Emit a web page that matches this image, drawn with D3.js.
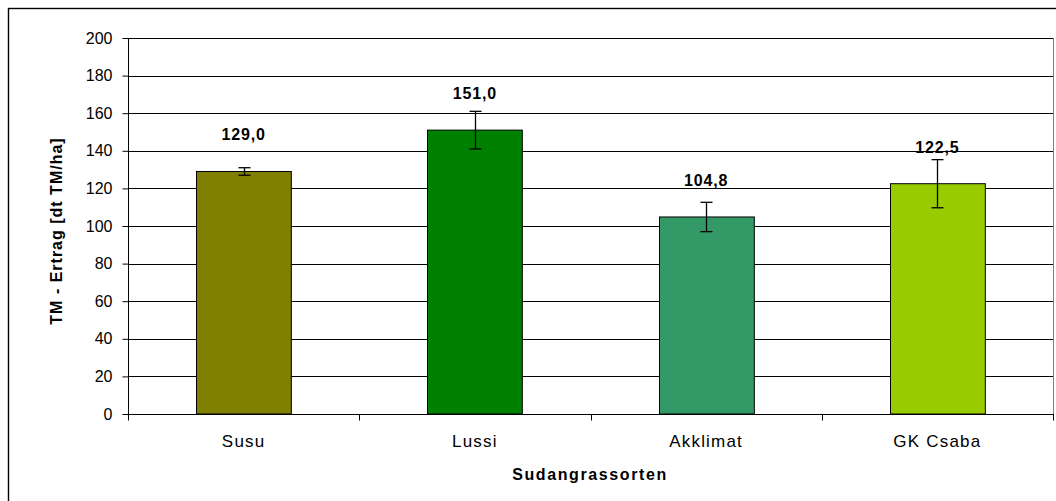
<!DOCTYPE html>
<html><head><meta charset="utf-8">
<script src="https://cdn.jsdelivr.net/npm/d3@7"></script>
<style>body{margin:0;background:#fff;font-family:"Liberation Sans",Arial,sans-serif}</style>
</head><body>
<svg id="chart" width="1056" height="501"></svg>
<script>
const categories = ["Susu", "Lussi", "Akklimat", "GK Csaba"];
const values = [129.0, 151.0, 104.8, 122.5];
const errors = [2.0, 10.0, 7.8, 12.8];
const valueLabels = ["129,0", "151,0", "104,8", "122,5"];
const colors = ["#808000", "#008000", "#339966", "#99CC00"];
const yTicks = [0, 20, 40, 60, 80, 100, 120, 140, 160, 180, 200];
const yTitle = "TM - Ertrag [dt TM/ha]";
const xTitle = "Sudangrassorten";

const FONT = "Liberation Sans, Arial, sans-serif";
const svg = d3.select("#chart").style("font-family", FONT);
const m = {left: 128, top: 38, right: 1053, bottom: 414};

svg.append("rect").attr("x", 8.5).attr("y", 8.5).attr("width", 1070).attr("height", 520)
  .attr("fill", "#fff").attr("stroke", "#000").attr("stroke-width", 1.4);

const x = d3.scaleBand().domain(categories).range([m.left, m.right]).paddingInner(0.59).paddingOuter(0.295);
const xs = d3.scaleBand().domain(categories).range([m.left, m.right]);
const y = d3.scaleLinear().domain([0, 200]).range([m.bottom, m.top]);

// gridlines
svg.append("g").selectAll("line").data(yTicks.filter(t => t > 0)).join("line")
  .attr("x1", m.left).attr("x2", m.right)
  .attr("y1", d => Math.round(y(d)) + 0.5).attr("y2", d => Math.round(y(d)) + 0.5)
  .attr("stroke", "#000").attr("stroke-width", 1);
// right plot border
svg.append("line").attr("x1", m.right + 0.5).attr("x2", m.right + 0.5)
  .attr("y1", m.top).attr("y2", m.bottom).attr("stroke", "#808080");

// bars
svg.append("g").selectAll("rect").data(categories).join("rect")
  .attr("x", d => Math.round(x(d)) + 0.5)
  .attr("y", (d, i) => y(values[i]))
  .attr("width", x.bandwidth())
  .attr("height", (d, i) => y(0) - y(values[i]))
  .attr("fill", (d, i) => colors[i]).attr("stroke", "#000").attr("stroke-width", 1);

// error bars
const eb = svg.append("g").attr("stroke", "#000").attr("stroke-width", 1.3);
categories.forEach((c, i) => {
  const cx = Math.round(x(c) + x.bandwidth() / 2) + 0.5;
  const y1 = y(values[i] + errors[i]), y2 = y(values[i] - errors[i]);
  eb.append("line").attr("x1", cx).attr("x2", cx).attr("y1", y1).attr("y2", y2);
  eb.append("line").attr("x1", cx - 6).attr("x2", cx + 6).attr("y1", y1).attr("y2", y1);
  eb.append("line").attr("x1", cx - 6).attr("x2", cx + 6).attr("y1", y2).attr("y2", y2);
});

// value labels
svg.append("g").selectAll("text").data(categories).join("text")
  .attr("x", d => x(d) + x.bandwidth() / 2)
  .attr("y", (d, i) => y(values[i]) - 31)
  .attr("text-anchor", "middle").attr("font-weight", "bold").attr("font-size", 16)
  .attr("letter-spacing", 0.8).attr("fill", "#000").text((d, i) => valueLabels[i]);

// y axis
const yAxis = svg.append("g").attr("transform", `translate(${m.left + 0.5},0)`)
  .call(d3.axisLeft(y).tickValues(yTicks).tickSize(6).tickPadding(10).tickFormat(d3.format("d")));
yAxis.select(".domain").attr("stroke", "#000").attr("d", `M0,${m.top}V${m.bottom + 5}`);
yAxis.selectAll(".tick line").attr("stroke", "#000");
yAxis.selectAll("text").attr("font-size", 16).attr("font-family", FONT).attr("fill", "#000");

// x axis
const xAxis = svg.append("g").attr("transform", `translate(0,${m.bottom + 0.5})`);
xAxis.append("line").attr("x1", m.left).attr("x2", m.right + 1).attr("y1", 0).attr("y2", 0).attr("stroke", "#000");
const tickPos = categories.map(c => xs(c)).concat([xs(categories[categories.length - 1]) + xs.bandwidth()]);
xAxis.selectAll("line.tk").data(tickPos).join("line").attr("class", "tk")
  .attr("x1", d => Math.round(d) + 0.5).attr("x2", d => Math.round(d) + 0.5).attr("y1", 0).attr("y2", 6).attr("stroke", "#000");
xAxis.selectAll("text").data(categories).join("text")
  .attr("x", d => xs(d) + xs.bandwidth() / 2).attr("y", 32)
  .attr("text-anchor", "middle").attr("font-size", 17).attr("letter-spacing", 1.2).attr("fill", "#000").text(d => d);

// titles
svg.append("text").attr("x", 590).attr("y", 480)
  .attr("text-anchor", "middle").attr("font-weight", "bold").attr("font-size", 16).attr("letter-spacing", 1.6).text(xTitle);
svg.append("text").attr("transform", `translate(62,231) rotate(-90)`)
  .attr("text-anchor", "middle").attr("font-weight", "bold").attr("font-size", 16).attr("letter-spacing", 1).text(yTitle);
</script>
</body></html>
